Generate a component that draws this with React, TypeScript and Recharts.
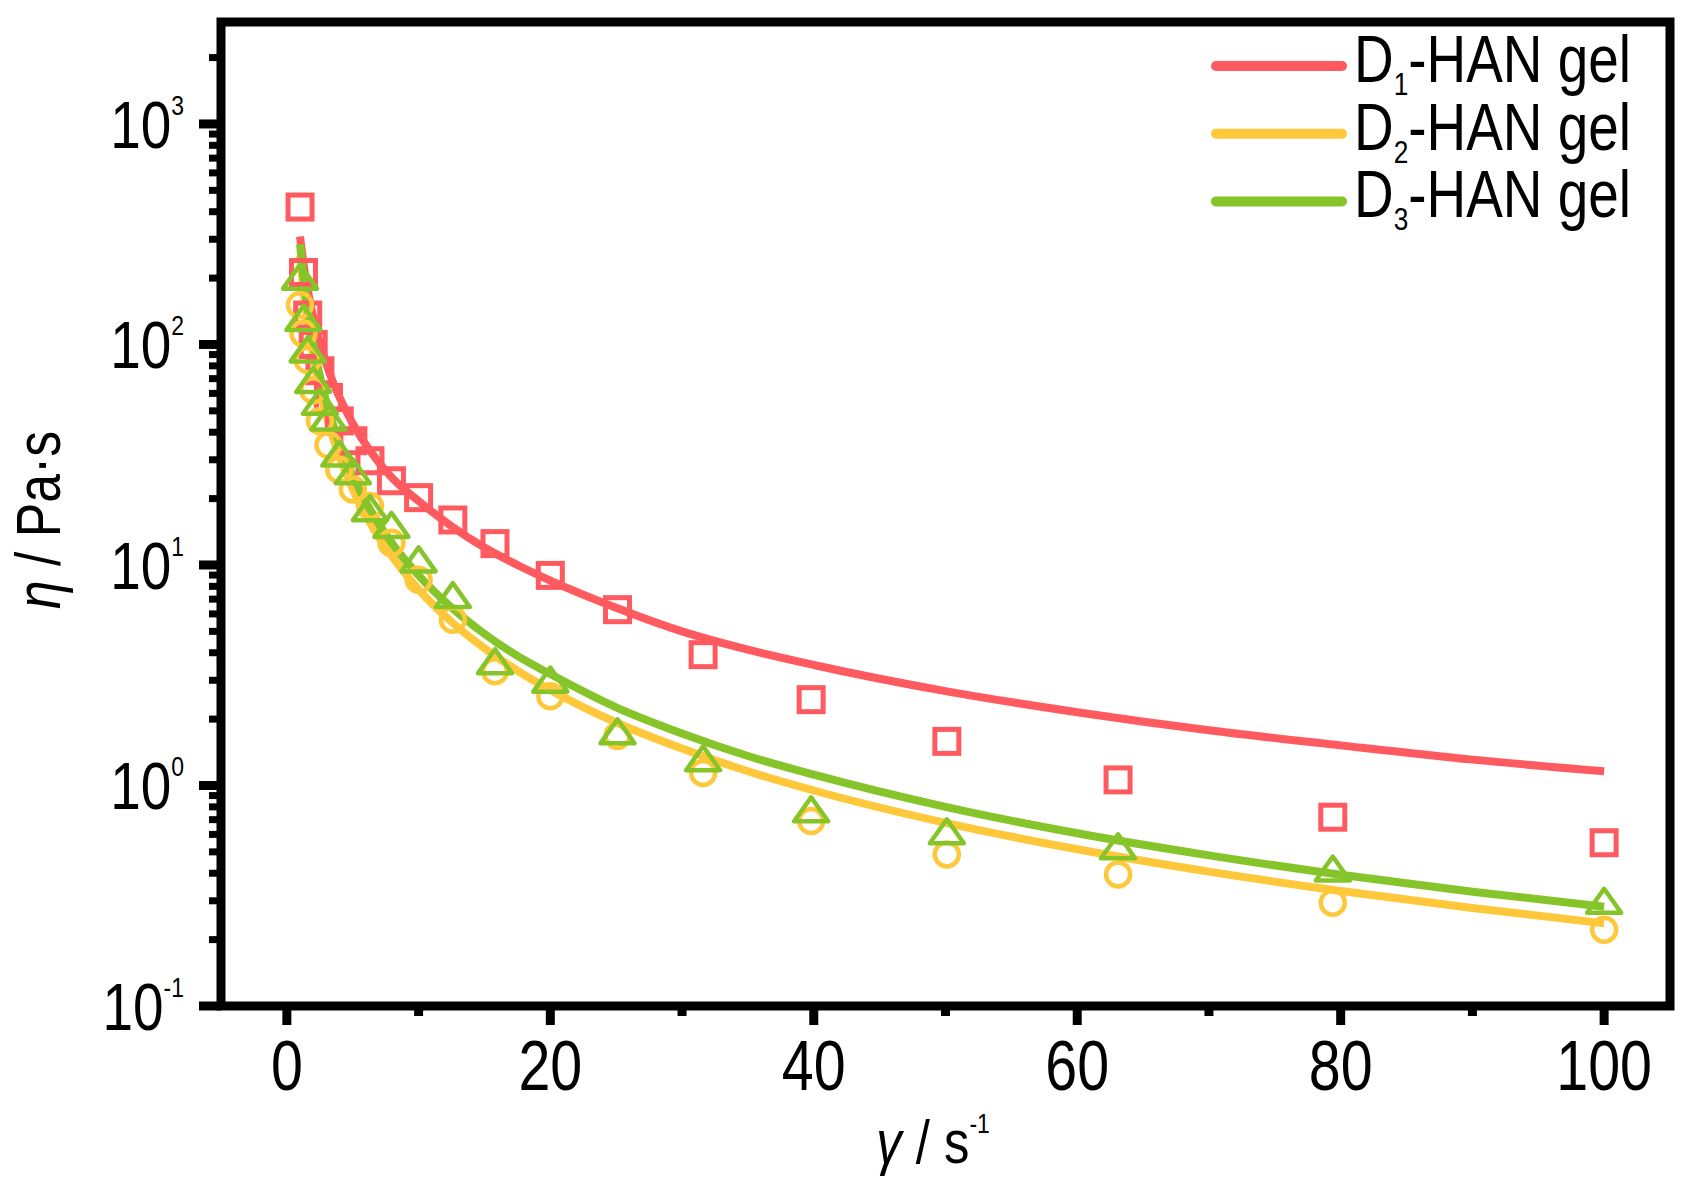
import React from 'react';
import { ComposedChart, Line, Scatter, XAxis, YAxis, ReferenceArea, Legend } from 'recharts';

// measured shear rates (1/s)
const shearRates = [1, 1.26, 1.58, 2, 2.51, 3.16, 3.98, 5.01, 6.31, 7.94, 10, 12.6, 15.8, 20, 25.1, 31.6, 39.8, 50.1, 63.1, 79.4, 100];
// measured viscosities (Pa·s)
const d1Viscosity = [420, 212, 136, 100, 76, 57.5, 45, 36.6, 29.7, 24.1, 20.2, 16.0, 12.5, 8.97, 6.27, 3.92, 2.45, 1.585, 1.06, 0.718, 0.55];
const d2Viscosity = [151, 112, 85, 62, 45, 35, 27, 22, 18.5, 12.6, 8.57, 5.65, 3.3, 2.54, 1.68, 1.14, 0.69, 0.487, 0.395, 0.294, 0.222];
const d3Viscosity = [203, 132, 95, 69, 55, 46.6, 32, 26.6, 18.1, 15.2, 10.6, 7.3, 3.66, 3.02, 1.76, 1.33, 0.78, 0.62, 0.53, 0.42, 0.30];

// fitted curves
const fitRates = [1, 1.25, 1.5, 1.75, 2, 2.5, 3, 3.5, 4, 5, 6, 7, 8, 10, 12.5, 15, 17.5, 20, 25, 30, 35, 40, 50, 60, 70, 80, 90, 100];
const d1Fit = [309, 236, 189, 157, 133, 102, 81.5, 67.5, 57.5, 43.8, 35.1, 29.1, 24.8, 19.5, 15.0, 12.0, 10.0, 8.5, 6.4, 5.0, 4.13, 3.52, 2.68, 2.15, 1.78, 1.52, 1.31, 1.16];
const d2Fit = [253, 180, 137, 108, 88.6, 63.2, 47.9, 37.9, 31.0, 22.1, 16.8, 13.3, 10.9, 7.74, 5.52, 4.19, 3.32, 2.71, 1.93, 1.47, 1.16, 0.949, 0.677, 0.514, 0.407, 0.332, 0.278, 0.237];
const d3Fit = [285, 204, 155, 123, 100.6, 72, 54.7, 43.4, 35.5, 25.4, 19.3, 15.3, 12.5, 8.97, 6.41, 4.87, 3.87, 3.2, 2.26, 1.72, 1.36, 1.12, 0.80, 0.607, 0.482, 0.394, 0.330, 0.282];

const seriesSubscripts = ['1', '2', '3'];
const seriesSuffix = '-HAN gel';

const xMajorTicks = [0, 20, 40, 60, 80, 100];
const xMinorTicks = [10, 30, 50, 70, 90];
const yMajorTicks = [0.1, 1, 10, 100, 1000];
const yMajorExponents = ['-1', '0', '1', '2', '3'];
const yMinorTicks = [0.2, 0.3, 0.4, 0.5, 0.6, 0.7, 0.8, 0.9, 2, 3, 4, 5, 6, 7, 8, 9, 20, 30, 40, 50, 60, 70, 80, 90, 200, 300, 400, 500, 600, 700, 800, 900, 2000];

const RED = '#FF5A5F';
const YELLOW = '#FFC83A';
const GREEN = '#86C52A';
const colors = [RED, YELLOW, GREEN];
const FONT = "'Liberation Sans', Arial, sans-serif";
const NARROW = 0.82;

const toPoints = (xs: number[], ys: number[]) => xs.map((x, i) => ({ x, y: ys[i] }));

// condensed text (Arial Narrow look)
const NText = ({ x, y, anchor = 'start', size, rotate = 0, children }: any) => (
  <g transform={`translate(${x},${y}) rotate(${rotate}) scale(${NARROW},1)`}>
    <text x={0} y={0} textAnchor={anchor} fontSize={size} fontFamily={FONT} fill="#000">
      {children}
    </text>
  </g>
);

const XTick = (props: any) => {
  const { x, y, payload } = props;
  const v = payload.value;
  const major = xMajorTicks.includes(v);
  return (
    <g>
      <line x1={x} x2={x} y1={y} y2={y + (major ? 19 : 10)} stroke="#000" strokeWidth={9} />
      {major && (
        <NText x={x} y={y + 84} anchor="middle" size={70}>
          {v}
        </NText>
      )}
    </g>
  );
};

const YTick = (props: any) => {
  const { x, y, payload } = props;
  const v = payload.value;
  const idx = yMajorTicks.indexOf(v);
  const major = idx >= 0;
  return (
    <g>
      <line x1={x - (major ? 22 : 12)} x2={x} y1={y} y2={y} stroke="#000" strokeWidth={major ? 9 : 7} />
      {major && (
        <NText x={x - 37} y={y + 24} anchor="end" size={67}>
          10
          <tspan fontSize={28} dy={-33}>{yMajorExponents[idx]}</tspan>
        </NText>
      )}
    </g>
  );
};

const YTitle = () => (
  <NText x={60} y={520} anchor="middle" size={63} rotate={-90}>
    <tspan fontStyle="italic">η</tspan>
    <tspan> / Pa·s</tspan>
  </NText>
);

const XTitle = () => (
  <NText x={933} y={1163} anchor="middle" size={62}>
    <tspan fontStyle="italic">γ</tspan>
    <tspan> / s</tspan>
    <tspan fontSize={28} dy={-30}>-1</tspan>
  </NText>
);

const renderLegend = () => (
  <svg width={470} height={240} style={{ overflow: 'visible', display: 'block' }}>
    {seriesSubscripts.map((s, i) => {
      const ly = 46 + i * 67.7;
      return (
        <g key={s}>
          <line x1={16} x2={142} y1={ly} y2={ly} stroke={colors[i]} strokeWidth={10} strokeLinecap="round" />
          <NText x={154} y={ly + 16} size={67}>
            D
            <tspan fontSize={32} dy={13}>{s}</tspan>
            <tspan dy={-13}>{seriesSuffix}</tspan>
          </NText>
        </g>
      );
    })}
  </svg>
);

const Square = (props: any) => {
  const { cx, cy } = props;
  return <rect x={cx - 12} y={cy - 12} width={24} height={24} fill="none" stroke={RED} strokeWidth={5} />;
};
const Circle = (props: any) => {
  const { cx, cy } = props;
  return <circle cx={cx} cy={cy} r={12} fill="none" stroke={YELLOW} strokeWidth={4.5} />;
};
const Triangle = (props: any) => {
  const { cx, cy } = props;
  return (
    <polygon
      points={`${cx},${cy - 12} ${cx + 17},${cy + 12} ${cx - 17},${cy + 12}`}
      fill="none"
      stroke={GREEN}
      strokeWidth={4.5}
      strokeLinejoin="round"
    />
  );
};

export default function App() {
  return (
    <div style={{ position: 'absolute', left: 0, top: 0, width: 1685, height: 1178, background: '#fff' }}>
      <ComposedChart width={1685} height={1178} margin={{ top: 22, right: 15, bottom: 0, left: 0 }}>
        <XAxis
          dataKey="x"
          type="number"
          domain={[-5, 105]}
          allowDataOverflow
          ticks={[...xMajorTicks, ...xMinorTicks]}
          interval={0}
          tick={<XTick />}
          tickLine={false}
          tickSize={0}
          tickMargin={0}
          axisLine={false}
          height={172}
          label={<XTitle />}
        />
        <YAxis
          dataKey="y"
          type="number"
          scale="log"
          domain={[0.1, 2900]}
          allowDataOverflow
          ticks={[...yMajorTicks, ...yMinorTicks]}
          interval={0}
          tick={<YTick />}
          tickLine={false}
          tickSize={0}
          tickMargin={0}
          axisLine={false}
          width={221}
          label={<YTitle />}
        />
        <ReferenceArea x1={-5} x2={105} y1={0.1} y2={2900} fill="none" fillOpacity={0} stroke="#000" strokeWidth={9} ifOverflow="visible" />
        <Scatter data={toPoints(shearRates, d1Viscosity)} dataKey="y" shape={<Square />} isAnimationActive={false} legendType="none" />
        <Scatter data={toPoints(shearRates, d2Viscosity)} dataKey="y" shape={<Circle />} isAnimationActive={false} legendType="none" />
        <Scatter data={toPoints(shearRates, d3Viscosity)} dataKey="y" shape={<Triangle />} isAnimationActive={false} legendType="none" />
        <Line data={toPoints(fitRates, d1Fit)} dataKey="y" type="monotone" stroke={RED} strokeWidth={8} dot={false} activeDot={false} isAnimationActive={false} />
        <Line data={toPoints(fitRates, d2Fit)} dataKey="y" type="monotone" stroke={YELLOW} strokeWidth={8} dot={false} activeDot={false} isAnimationActive={false} />
        <Line data={toPoints(fitRates, d3Fit)} dataKey="y" type="monotone" stroke={GREEN} strokeWidth={8} dot={false} activeDot={false} isAnimationActive={false} />
        <Legend
          layout="horizontal"
          verticalAlign="middle"
          align="center"
          content={renderLegend}
          wrapperStyle={{ left: 1200, top: 20, width: 470, height: 240 }}
        />
      </ComposedChart>
    </div>
  );
}
